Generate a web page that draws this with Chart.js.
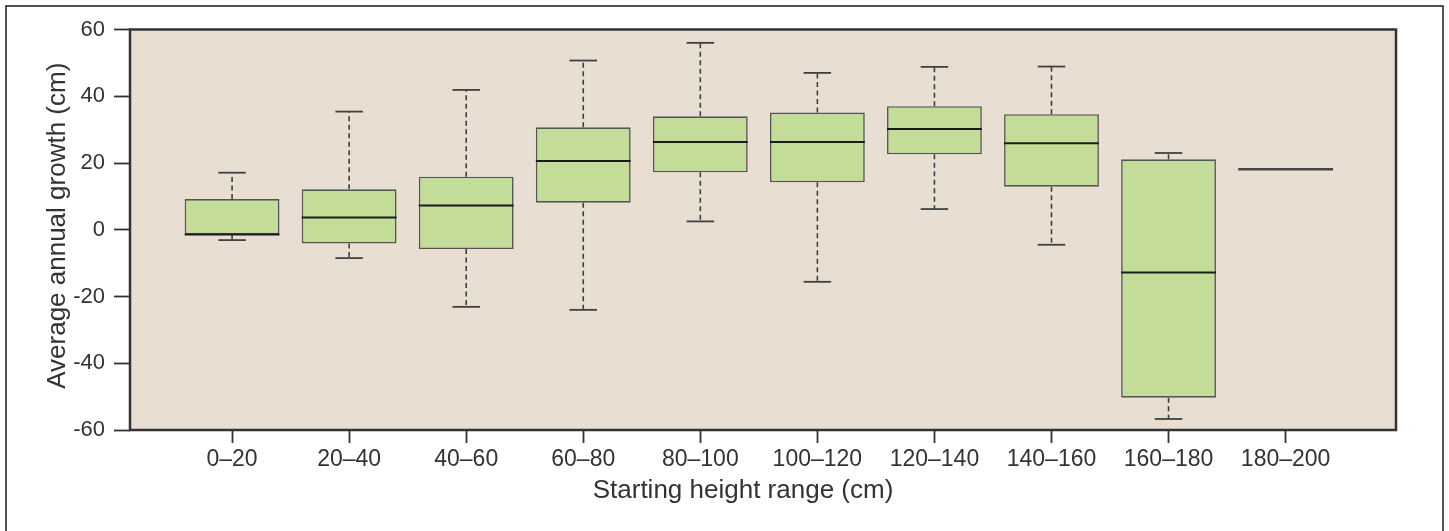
<!DOCTYPE html>
<html><head><meta charset="utf-8">
<script src="https://cdn.jsdelivr.net/npm/chart.js@4.4.1/dist/chart.umd.min.js"></script>
<style>html,body{margin:0;padding:0;background:#fff;}canvas{display:block;}</style>
</head><body>
<canvas id="c" width="1449" height="531"></canvas>
<script>
// ---- data ----
const categories  = ['0–20','20–40','40–60','60–80','80–100','100–120','120–140','140–160','160–180','180–200'];
const whiskerLow  = [-3.1, -8.5, -23.1, -24.0,  2.5, -15.6,  6.2, -4.5, -56.7, 18.1];
const q1          = [-1.4, -4.1,  -5.8,   8.1, 17.2,  14.2, 22.6, 12.9, -50.3, 18.1];
const median      = [-1.4,  3.7,   7.3,  20.6, 26.3,  26.3, 30.2, 25.9, -12.8, 18.1];
const q3          = [ 9.2, 12.1,  15.9,  30.7, 34.0,  35.1, 37.0, 34.6,  21.1, 18.1];
const whiskerHigh = [17.1, 35.4,  41.9,  50.7, 56.0,  47.0, 48.8, 48.9,  23.0, 18.1];
const yTicks      = [-60, -40, -20, 0, 20, 40, 60];

const FONT = '"Liberation Sans", Arial, Helvetica, sans-serif';
const TEXT = '#333333';

const boxData = categories.map((c, i) => ({ x: i + 1, y: [q1[i], q3[i]] }));

function shiftTitle(scale, dx, dy) {
  if (scale._titleShifted) return;
  const orig = scale.drawTitle;
  scale.drawTitle = function () {
    const ctx = this.ctx;
    ctx.save();
    ctx.translate(dx, dy);
    orig.call(this);
    ctx.restore();
  };
  scale._titleShifted = true;
}

const boxPlugin = {
  id: 'boxplot',
  afterLayout(chart) {
    shiftTitle(chart.scales.x, -20, 0);
    shiftTitle(chart.scales.y, 0, -4);
  },
  beforeDraw(chart) {
    const { ctx, chartArea: a } = chart;
    ctx.save();
    ctx.fillStyle = '#ffffff';
    ctx.fillRect(0, 0, chart.width, chart.height);
    ctx.strokeStyle = '#1a1a1a';
    ctx.lineWidth = 1.5;
    ctx.strokeRect(6, 6, chart.width - 12, chart.height + 20);
    ctx.fillStyle = '#e8dfd2';
    ctx.fillRect(a.left, a.top, a.right - a.left, a.bottom - a.top);
    ctx.restore();
  },
  beforeDatasetsDraw(chart) {
    const { ctx } = chart;
    const ys = chart.scales.y;
    const meta = chart.getDatasetMeta(0);
    ctx.save();
    meta.data.forEach((bar, i) => {
      const cx = bar.x, w = bar.width, cap = w * 0.145;
      const pHi = ys.getPixelForValue(whiskerHigh[i]);
      const pQ3 = ys.getPixelForValue(q3[i]);
      const pQ1 = ys.getPixelForValue(q1[i]);
      const pLo = ys.getPixelForValue(whiskerLow[i]);
      ctx.strokeStyle = '#404040';
      ctx.lineWidth = 1.6;
      ctx.setLineDash([5, 3.5]);
      if (whiskerHigh[i] > q3[i]) { ctx.beginPath(); ctx.moveTo(cx, pQ3); ctx.lineTo(cx, pHi); ctx.stroke(); }
      if (whiskerLow[i] < q1[i]) { ctx.beginPath(); ctx.moveTo(cx, pQ1); ctx.lineTo(cx, pLo); ctx.stroke(); }
      ctx.setLineDash([]);
      ctx.lineWidth = 1.8;
      if (whiskerHigh[i] > q3[i]) { ctx.beginPath(); ctx.moveTo(cx - cap, pHi); ctx.lineTo(cx + cap, pHi); ctx.stroke(); }
      if (whiskerLow[i] < q1[i]) { ctx.beginPath(); ctx.moveTo(cx - cap, pLo); ctx.lineTo(cx + cap, pLo); ctx.stroke(); }
    });
    ctx.restore();
  },
  afterDatasetsDraw(chart) {
    const { ctx, chartArea: a } = chart;
    const ys = chart.scales.y;
    const meta = chart.getDatasetMeta(0);
    ctx.save();
    meta.data.forEach((bar, i) => {
      const flat = q1[i] === q3[i];
      const pm = ys.getPixelForValue(median[i]);
      ctx.strokeStyle = flat ? '#444444' : '#1c1c1c';
      ctx.lineWidth = flat ? 2.5 : 2;
      ctx.beginPath();
      ctx.moveTo(bar.x - bar.width / 2, pm);
      ctx.lineTo(bar.x + bar.width / 2, pm);
      ctx.stroke();
    });
    ctx.strokeStyle = '#333333';
    ctx.lineWidth = 2.5;
    ctx.strokeRect(a.left, a.top, a.right - a.left, a.bottom - a.top);
    ctx.restore();
  }
};

new Chart(document.getElementById('c'), {
  type: 'bar',
  data: {
    datasets: [{
      data: boxData,
      backgroundColor: '#c3dc97',
      borderColor: '#555555',
      borderWidth: 1.6,
      borderSkipped: false,
      barPercentage: 0.81,
      categoryPercentage: 1.0
    }]
  },
  options: {
    responsive: false,
    animation: false,
    devicePixelRatio: 1,
    layout: { padding: { top: 29.5, right: 53, left: 0, bottom: 0 } },
    plugins: { legend: { display: false }, tooltip: { enabled: false } },
    scales: {
      x: {
        type: 'linear',
        offset: false,
        min: 0.128,
        max: 10.943,
        afterBuildTicks: s => { s.ticks = categories.map((_, i) => ({ value: i + 1 })); },
        afterFit: s => { s.height = 101; },
        ticks: {
          callback: v => categories[Math.round(v) - 1] ?? '',
          font: { family: FONT, size: 23 },
          color: TEXT,
          padding: 3,
          maxRotation: 0,
          autoSkip: false
        },
        grid: { offset: false, drawOnChartArea: false, drawTicks: true, tickLength: 13, tickWidth: 1.8, tickColor: '#333333' },
        border: { display: false },
        title: {
          display: true,
          text: 'Starting height range (cm)',
          font: { family: FONT, size: 26 },
          color: TEXT,
          padding: { top: 0, bottom: 25 }
        }
      },
      y: {
        min: -60,
        max: 60,
        afterBuildTicks: s => { s.ticks = yTicks.map(v => ({ value: v })); },
        afterFit: s => { s.width = 130; },
        ticks: {
          font: { family: FONT, size: 22 },
          color: TEXT,
          padding: 9
        },
        grid: { drawOnChartArea: false, drawTicks: true, tickLength: 16, tickWidth: 1.8, tickColor: '#333333' },
        border: { display: false },
        title: {
          display: true,
          text: 'Average annual growth (cm)',
          font: { family: FONT, size: 26 },
          color: TEXT,
          padding: { top: 42, bottom: 0 }
        }
      }
    }
  },
  plugins: [boxPlugin]
});
</script>
</body></html>
